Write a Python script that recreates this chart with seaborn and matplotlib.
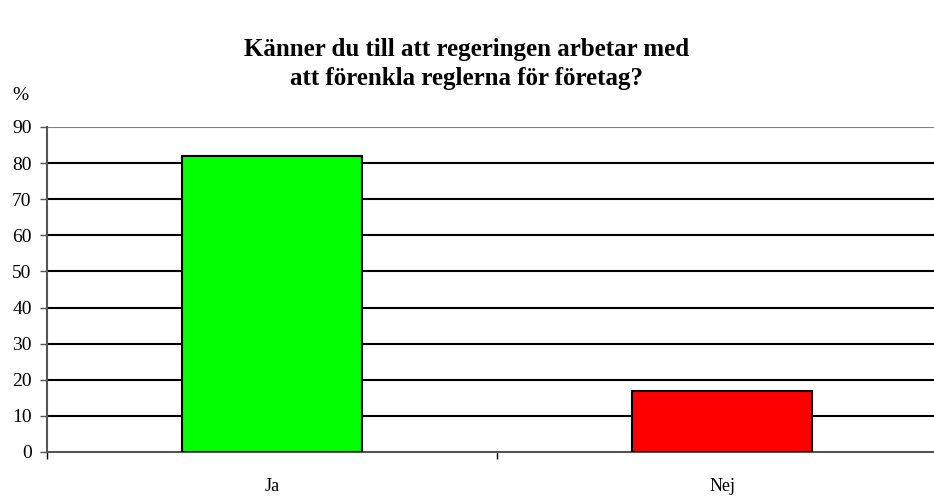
import pandas as pd
import matplotlib
matplotlib.use("Agg")
import matplotlib.pyplot as plt
import seaborn as sns

svar = ["Ja", "Nej"]
andel = [82, 17]
farger = ["#00FF00", "#FF0000"]
yticks = [0, 10, 20, 30, 40, 50, 60, 70, 80, 90]

df = pd.DataFrame({"svar": svar, "andel": andel})

sns.set_style("white")
plt.rcParams["font.family"] = ["Liberation Serif", "DejaVu Serif"]
plt.rcParams["text.color"] = "black"
plt.rcParams["xtick.color"] = "black"
plt.rcParams["ytick.color"] = "black"

fig = plt.figure(figsize=(9.34, 4.96), dpi=100)
# the plot area runs a little past the right edge of the picture, as in the original
ax = fig.add_axes([47 / 934, 44 / 496, 900 / 934, 325 / 496])

sns.barplot(data=df, x="svar", y="andel", hue="svar", palette=farger,
            legend=False, width=0.4, saturation=1, edgecolor="black",
            linewidth=1.5, zorder=3, ax=ax)

ax.set_ylim(0, 90)
ax.set_xlim(-0.5, 1.5)
ax.set_yticks(yticks)
ax.set_yticklabels([str(t) for t in yticks], fontsize=14)
for t in yticks[1:-1]:
    ax.axhline(t, color="black", linewidth=1.5, zorder=1)
ax.axhline(90, color="#808080", linewidth=1.5, zorder=1)

ax.set_xticks([-0.5, 0.5, 1.5], minor=True)
ax.tick_params(axis="x", which="minor", length=5, width=1, color="black",
               bottom=True)
ax.tick_params(axis="x", which="major", length=0, labelsize=13, pad=19)
ax.tick_params(axis="y", which="major", length=5, width=1, color="#555555",
               left=True, pad=6)
ax.set_xlabel("")
ax.set_ylabel("")

for side in ["top", "right"]:
    ax.spines[side].set_visible(False)
ax.spines["left"].set_color("#555555")
ax.spines["left"].set_linewidth(1.5)
ax.spines["bottom"].set_color("#555555")
ax.spines["bottom"].set_linewidth(1.5)

fig.text(12 / 934, 1 - 96 / 496, "%", fontsize=14, ha="left", va="center")
fig.text(0.5, 1 - 64 / 496,
         "Känner du till att regeringen arbetar med\natt förenkla reglerna för företag?",
         fontsize=18, fontweight="bold", ha="center", va="center",
         linespacing=1.35)

fig.savefig("out.png", dpi=100)
